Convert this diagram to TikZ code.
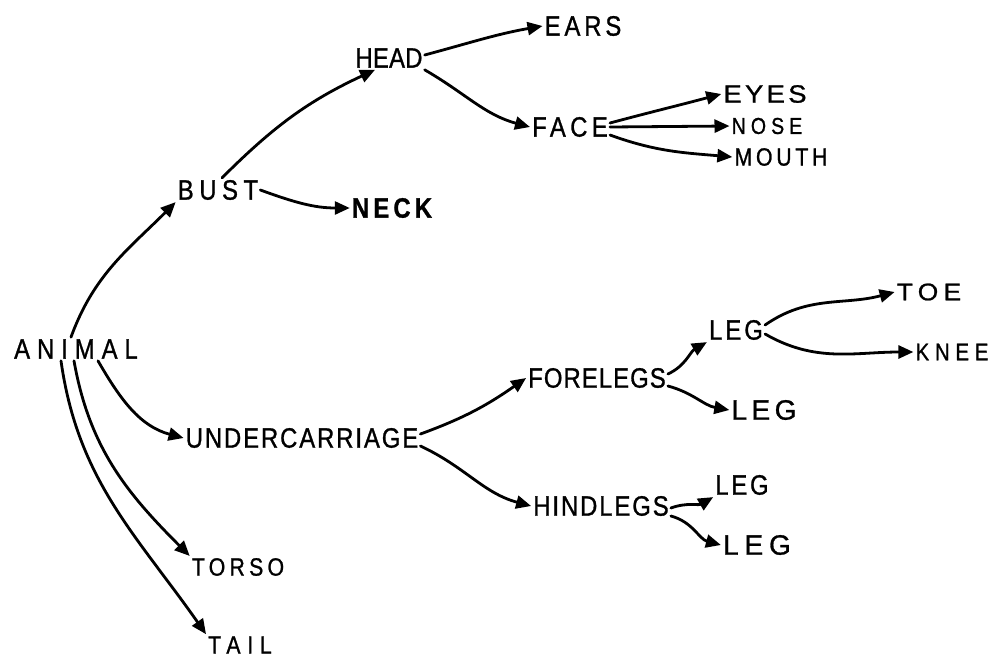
\documentclass[tikz,border=0pt]{standalone}
\usepackage{fontspec}
\setmainfont[FakeStretch=0.85,FakeBold=1]{Liberation Sans}
\usetikzlibrary{arrows.meta}
\tikzset{
  lbl/.style={inner sep=2pt, anchor=center},
  txt/.style 2 args={font=\fontsize{#1}{#1}\selectfont\addfontfeatures{LetterSpace=#2}},
  txtw/.style n args={3}{font=\fontsize{#1}{#1}\selectfont\addfontfeatures{LetterSpace=#2,FakeStretch=#3}},
  txtb/.style 2 args={font=\fontsize{#1}{#1}\selectfont\bfseries\addfontfeatures{LetterSpace=#2}},
  conn/.style={line width=2.8pt, -{Triangle[length=15pt,width=13pt]}, line cap=round},
}
\begin{document}
\begin{tikzpicture}[x=1pt,y=1pt]
\useasboundingbox (0,0) rectangle (993,-661);
% nodes
\node[lbl,txt={28}{25}] (animal) at (76,-349) {ANIMAL};
\node[lbl,txt={28}{20}] (bust) at (218,-190) {BUST};
\node[lbl,txtb={28}{15}] (neck) at (392,-208) {NECK};
\node[lbl,txt={28}{1}] (head) at (389,-58) {HEAD};
\node[lbl,txt={28}{14}] (ears) at (583,-26) {EARS};
\node[lbl,txt={28}{16}] (face) at (570,-127) {FACE};
\node[lbl,txtw={25}{13}{1.1}] (eyes) at (765,-94) {EYES};
\node[lbl,txt={23}{22}] (nose) at (767,-126) {NOSE};
\node[lbl,txt={25}{15}] (mouth) at (781,-157) {MOUTH};
\node[lbl,txt={28}{7}] (under) at (302,-438) {UNDERCARRIAGE};
\node[lbl,txt={28}{4}] (fore) at (597,-378) {FORELEGS};
\node[lbl,txt={28}{11}] (leg1) at (736,-330) {LEG};
\node[lbl,txtw={24}{22}{1.1}] (toe) at (929,-292) {TOE};
\node[lbl,txt={24}{24}] (knee) at (952,-352) {KNEE};
\node[lbl,txtw={28}{16}{1.0}] (leg2) at (764,-410) {LEG};
\node[lbl,txt={28}{7}] (hind) at (601,-506) {HINDLEGS};
\node[lbl,txt={28}{10}] (leg3) at (742,-485) {LEG};
\node[lbl,txtw={28}{21}{1.0}] (leg4) at (757,-545) {LEG};
\node[lbl,txt={25}{17}] (torso) at (238,-567) {TORSO};
\node[lbl,txt={25}{27}] (tail) at (240,-645) {TAIL};
% connectors
\draw[conn] ([xshift=-5pt]animal.north) to[out=70,in=225] (bust.south west);
\draw[conn] ([xshift=4pt]bust.north) to[out=45,in=205] ([xshift=-14pt]head.south);
\draw[conn] (bust.east) to[out=-20,in=180] (neck.west);
\draw[conn] ([yshift=3pt]head.east) to[out=15,in=190] (ears.west);
\draw[conn] (head.south east) to[out=-30,in=165] (face.west);
\draw[conn] ([yshift=4pt]face.east) to[out=15,in=195] (eyes.west);
\draw[conn] (face.east) to (nose.west);
\draw[conn] ([yshift=-8pt]face.east) to[out=-20,in=175] (mouth.west);
\draw[conn] ([xshift=22pt]animal.south) to[out=-60,in=165] (under.west);
\draw[conn] ([xshift=-2pt]animal.south) to[out=-80,in=135] (torso.north west);
\draw[conn] ([xshift=-15pt]animal.south) to[out=-82,in=125] (tail.north west);
\draw[conn] ([yshift=4pt]under.east) to[out=20,in=215] (fore.west);
\draw[conn] ([yshift=-8pt]under.east) to[out=-25,in=165] (hind.west);
\draw[conn] ([yshift=4pt]fore.east) to[out=25,in=210] (leg1.south west);
\draw[conn] ([yshift=-8pt]fore.east) to[out=-15,in=170] (leg2.west);
\draw[conn] ([yshift=5pt]leg1.east) to[out=35,in=195] (toe.west);
\draw[conn] ([yshift=-4pt]leg1.east) to[out=-30,in=180] (knee.west);
\draw[conn] ([yshift=-2pt]hind.east) to[out=20,in=210] (leg3.south west);
\draw[conn] ([yshift=-10pt]hind.east) to[out=-15,in=165] (leg4.west);
\end{tikzpicture}
\end{document}
